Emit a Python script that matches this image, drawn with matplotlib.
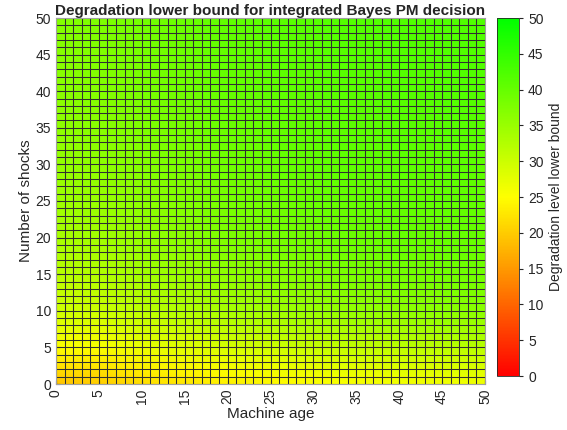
import numpy as np
import matplotlib
matplotlib.use('Agg')
import matplotlib.pyplot as plt
from matplotlib.colors import LinearSegmentedColormap

plt.rcParams['font.family'] = ['Liberation Sans', 'DejaVu Sans']

# 读图估计的取样点（机器年龄 x，冲击次数 y）
machine_age = [0, 5, 10, 20, 30, 40, 50]
shocks = [0, 2, 5, 10, 15, 20, 30, 40, 50]
lower_bound = [
    [19.0, 20.0, 21.5, 23.5, 25.0, 26.0, 26.5],  # y=0
    [21.5, 22.0, 23.5, 25.5, 27.0, 28.0, 28.5],  # y=2
    [25.0, 25.5, 27.0, 29.0, 30.5, 31.5, 32.0],  # y=5
    [29.5, 30.0, 31.5, 33.5, 35.0, 36.0, 36.5],  # y=10
    [32.0, 32.5, 34.0, 36.0, 37.5, 38.5, 39.0],  # y=15
    [33.5, 34.0, 35.5, 37.5, 39.0, 40.0, 40.0],  # y=20
    [35.5, 36.0, 37.0, 39.0, 40.5, 41.0, 41.0],  # y=30
    [36.5, 37.0, 38.0, 40.0, 41.0, 41.5, 41.8],  # y=40
    [37.0, 37.5, 38.5, 40.5, 41.5, 42.0, 42.0],  # y=50
]

cmap = LinearSegmentedColormap.from_list('ryg', ['#ff0000', '#ffff00', '#00ff00'])
ink = '#262626'

fig = plt.figure(figsize=(5.67, 4.30), dpi=100)
ax = fig.add_axes([56/567, 1 - 384/430, (485 - 56)/567, (384 - 18)/430])
cax = fig.add_axes([497/567, 1 - 376/430, 22/567, (376 - 18)/430])

mesh = ax.pcolormesh(machine_age, shocks, np.array(lower_bound), cmap=cmap,
                     vmin=0, vmax=50, shading='gouraud')
# 网格线（每个单元格的边）
for k in range(51):
    ax.axvline(k, color='#303030', lw=0.75)
    ax.axhline(k, color='#303030', lw=0.75)

ax.set_xlim(0, 50); ax.set_ylim(0, 50)
ax.set_xticks(range(0, 51, 5))
ax.set_yticks(range(0, 51, 5))
ax.tick_params(axis='x', labelrotation=90)
ax.tick_params(labelsize=10, colors=ink, direction='in', length=3)
for s in ax.spines.values():
    s.set_color('#a0a0a0')
ax.set_xlabel('Machine age', fontsize=11, color=ink, labelpad=2)
ax.set_ylabel('Number of shocks', fontsize=11, color=ink, labelpad=2)
ax.set_title('Degradation lower bound for integrated Bayes PM decision',
             fontsize=11, fontweight='bold', color=ink, pad=2)

cb = fig.colorbar(mesh, cax=cax, ticks=range(0, 51, 5))
cb.outline.set_edgecolor(ink)
cb.outline.set_linewidth(0.6)
cax.tick_params(labelsize=10, colors=ink, length=3)
cb.set_label('Degradation level lower bound', fontsize=10, color=ink, labelpad=4)

fig.savefig('out.png', dpi=100)
